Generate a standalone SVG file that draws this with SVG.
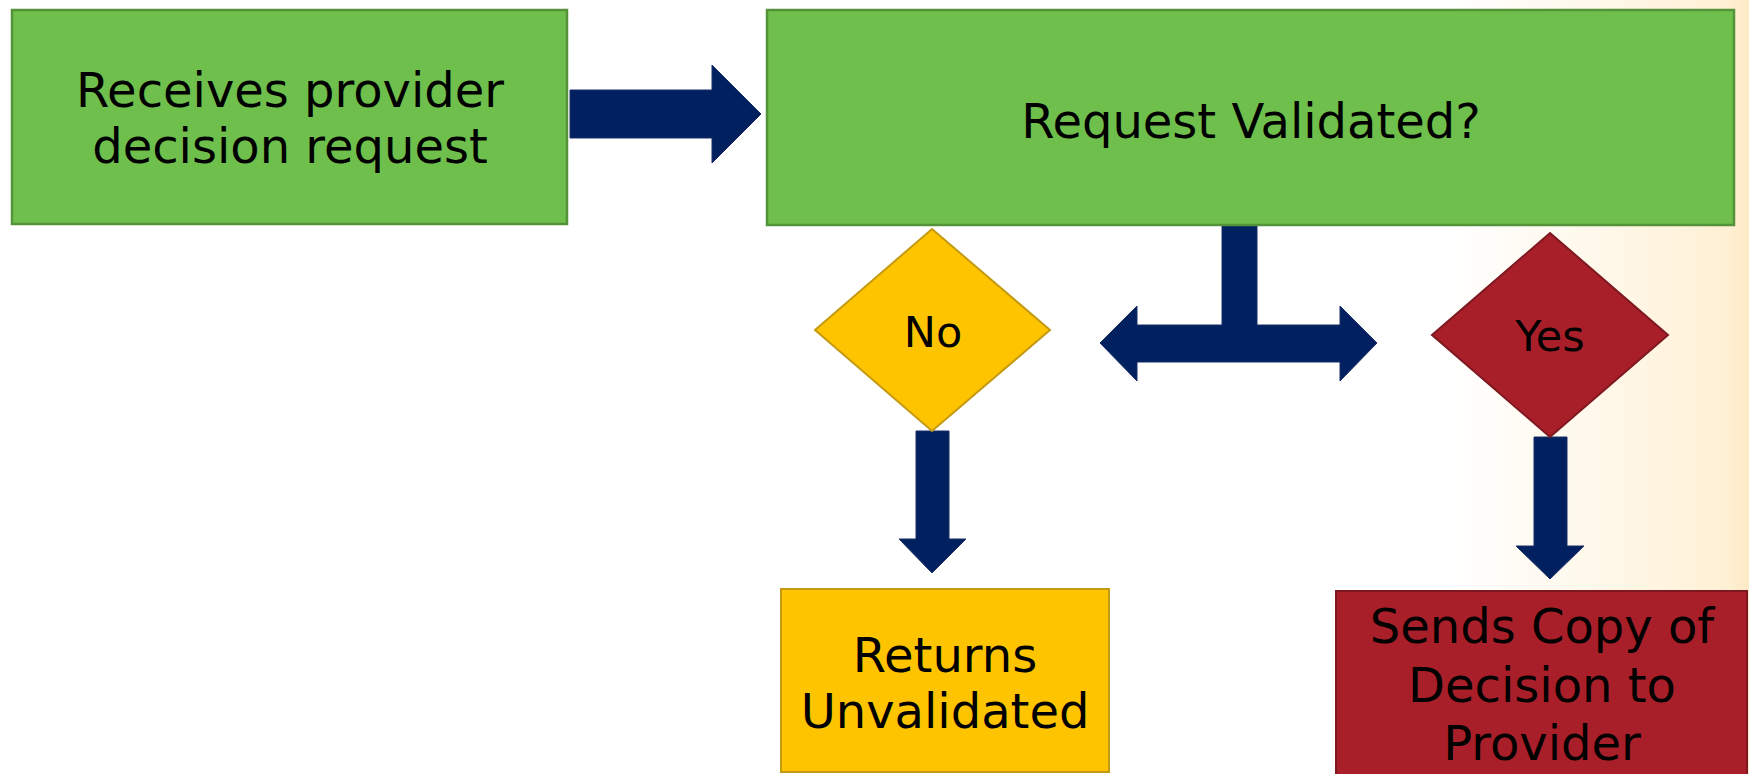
<svg xmlns="http://www.w3.org/2000/svg" width="1749" height="774" viewBox="0 0 1749 774">
<defs>
<linearGradient id="bg" gradientUnits="userSpaceOnUse" x1="1450" y1="0" x2="1749" y2="0">
<stop offset="0" stop-color="#FFFFFF"/>
<stop offset="0.5" stop-color="#FFF8EA"/>
<stop offset="0.93" stop-color="#FEF0D4"/>
<stop offset="1" stop-color="#FDE9C4"/>
</linearGradient>
<style>
.t{font-family:"DejaVu Sans",Verdana,sans-serif;fill:#000;text-anchor:middle}
.green{fill:#6FBF4C;stroke:#55933A;stroke-width:2.5}
.yellow{fill:#FFC400;stroke:#C49A12;stroke-width:2}
.red{fill:#A91F29;stroke:#7E1820;stroke-width:2}
.arrow{fill:#00205F;stroke:#1B2F66;stroke-width:1}
</style>
</defs>
<rect x="0" y="0" width="1749" height="774" fill="url(#bg)"/>
<g id="connectors">
<path class="arrow" d="M570,90 H712 V65 L761,114 L712,163 V138 H570 Z"/>
<path class="arrow" d="M1222,225 H1257 V325 H1340 V306 L1377,343 L1340,381 V362 H1137 V381 L1100,343 L1137,306 V325 H1222 Z"/>
<path class="arrow" d="M916,431 H949 V539 H966 L932,573 L899,539 H916 Z"/>
<path class="arrow" d="M1534,437 H1567 V546 H1584 L1550,579 L1516,546 H1534 Z"/>
</g>
<g id="receives">
<rect class="green" x="12" y="10" width="555" height="214"/>
<text class="t" font-size="48" x="290" y="107">Receives provider</text>
<text class="t" font-size="48" x="290" y="163">decision request</text>
</g>
<g id="validated">
<rect class="green" x="767" y="10" width="967" height="215"/>
<text class="t" font-size="48" x="1251" y="138">Request Validated?</text>
</g>
<g id="no">
<polygon class="yellow" points="932,229 1050,330 932,431 815,330"/>
<text class="t" font-size="43" x="933" y="347">No</text>
</g>
<g id="yes">
<polygon class="red" points="1550,233 1668,335 1550,437 1432,335"/>
<text class="t" font-size="43" x="1550" y="351">Yes</text>
</g>
<g id="returns">
<rect class="yellow" x="781" y="589" width="328" height="183"/>
<text class="t" font-size="48" x="945" y="672">Returns</text>
<text class="t" font-size="48" x="945" y="728">Unvalidated</text>
</g>
<g id="sends">
<rect class="red" x="1336" y="591" width="411" height="200"/>
<text class="t" font-size="48" x="1542" y="643">Sends Copy of</text>
<text class="t" font-size="48" x="1542" y="702">Decision to</text>
<text class="t" font-size="48" x="1542" y="760">Provider</text>
</g>
</svg>
